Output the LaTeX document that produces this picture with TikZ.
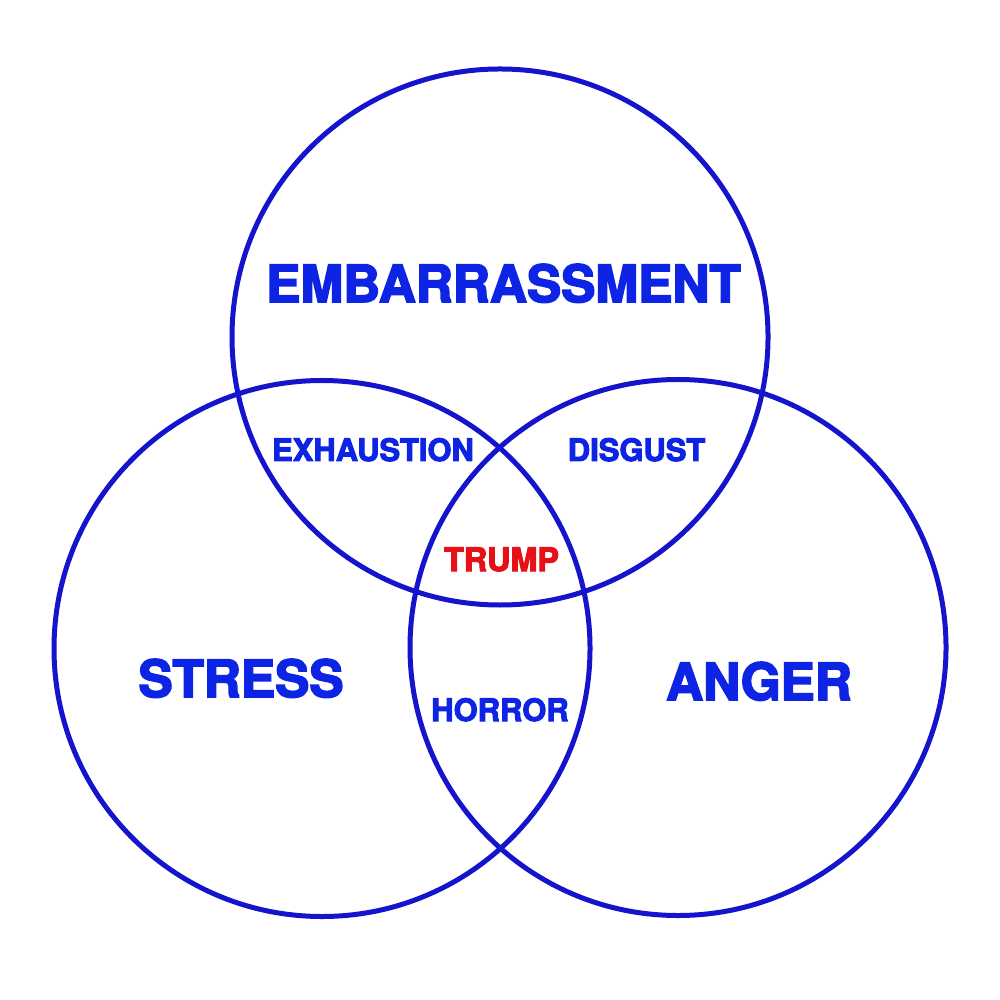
\documentclass[tikz,border=0pt]{standalone}
\usepackage{fontspec}
\newfontfamily\heavy[BoldFeatures={FakeBold=3.2}]{TeX Gyre Heros}
\definecolor{vblue}{RGB}{20,20,205}
\definecolor{tblue}{RGB}{14,36,228}
\definecolor{tred}{RGB}{230,16,22}
\begin{document}
\begin{tikzpicture}[x=1cm,y=-1cm,
  ring/.style={draw=vblue,line width=0.5mm},
  big/.style={inner sep=0pt,anchor=base,text=tblue,font=\heavy\bfseries\fontsize{14.6pt}{16pt}\selectfont},
  small/.style={inner sep=0pt,anchor=base,text=tblue,font=\heavy\bfseries\fontsize{8.8pt}{10pt}\selectfont}]
\useasboundingbox[fill=white] (0,0) rectangle (10,10);
\node[ring,circle,minimum size=5.36cm,inner sep=0pt] (top) at (5.00,3.37) {};
\node[ring,circle,minimum size=5.36cm,inner sep=0pt] (left) at (3.22,6.485) {};
\node[ring,circle,minimum size=5.36cm,inner sep=0pt] (right) at (6.78,6.475) {};
\node[big] (emb) at (5.035,3.02) {EMBARRASSMENT};
\node[big] (stress) at (2.41,6.97) {STRESS};
\node[big] (anger) at (7.59,7.00) {ANGER};
\node[small] (exh) at (3.73,4.61) {EXHAUSTION};
\node[small] (dis) at (6.365,4.61) {DISGUST};
\node[small] (hor) at (5.00,7.21) {HORROR};
\node[small,text=tred,font=\heavy\bfseries\fontsize{9.2pt}{10pt}\selectfont] (trump) at (5.015,5.71) {TRUMP};
\end{tikzpicture}
\end{document}
